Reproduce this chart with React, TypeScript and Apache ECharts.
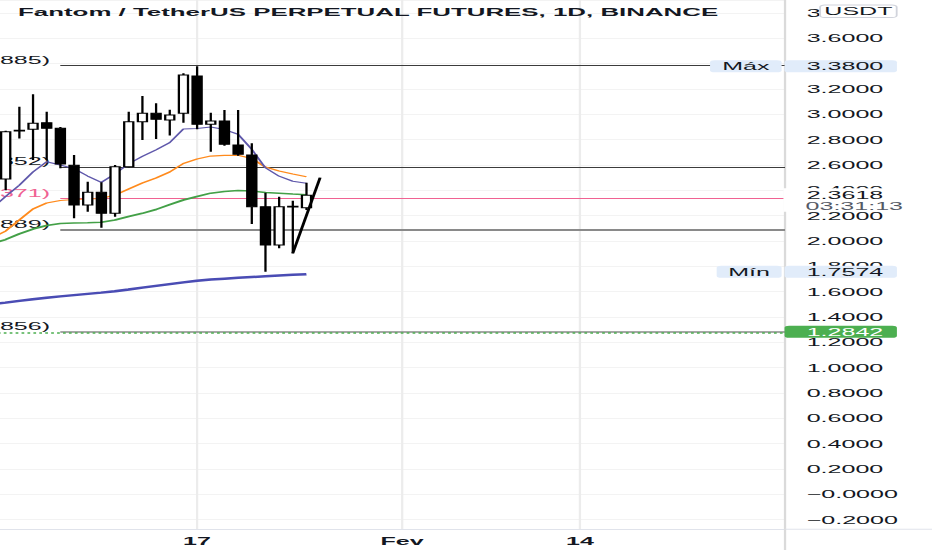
import React, { useEffect, useRef } from 'react';
import * as echarts from 'echarts';

// ---------- data ----------
const candleDates = [
  '2022-01-03', '2022-01-04', '2022-01-05', '2022-01-06', '2022-01-07', '2022-01-08',
  '2022-01-09', '2022-01-10', '2022-01-11', '2022-01-12', '2022-01-13', '2022-01-14',
  '2022-01-15', '2022-01-16', '2022-01-17', '2022-01-18', '2022-01-19', '2022-01-20',
  '2022-01-21', '2022-01-22', '2022-01-23', '2022-01-24', '2022-01-25',
];
const opens = [2.49, 2.875, 2.882, 2.934, 2.89, 2.598, 2.285, 2.385, 2.219, 2.587, 2.942, 3.008, 2.955, 3.008, 3.303, 2.922, 2.948, 2.758, 2.679, 2.271, 1.969, 2.275, 2.262];
const closes = [2.863, 2.868, 2.929, 2.89, 2.608, 2.285, 2.385, 2.219, 2.587, 2.942, 3.008, 2.961, 2.995, 3.311, 2.922, 2.948, 2.764, 2.685, 2.271, 1.969, 2.271, 2.268, 2.3618];
const lows = [2.40, 2.81, 2.64, 2.64, 2.574, 2.18, 2.232, 2.105, 2.192, 2.58, 2.798, 2.805, 2.833, 2.934, 2.882, 2.705, 2.753, 2.674, 2.134, 1.7574, 1.943, 1.903, 2.245];
const highs = [2.87, 3.06, 3.158, 3.021, 2.90, 2.679, 2.469, 2.464, 2.60, 3.021, 3.145, 3.087, 3.036, 3.324, 3.38, 3.013, 3.034, 3.034, 2.772, 2.382, 2.35, 2.318, 2.461];

const maDates = ['2022-01-02', ...candleDates];
const maFast = [2.259, 2.351, 2.440, 2.545, 2.626, 2.600, 2.572, 2.513, 2.463, 2.53, 2.61, 2.668, 2.72, 2.777, 2.885, 2.889, 2.900, 2.880, 2.843, 2.725, 2.578, 2.512, 2.472, 2.456];
const maMid = [2.024, 2.079, 2.166, 2.253, 2.300, 2.320, 2.328, 2.332, 2.336, 2.363, 2.411, 2.458, 2.498, 2.545, 2.612, 2.648, 2.671, 2.677, 2.677, 2.652, 2.584, 2.553, 2.529, 2.508];
const maSlow = [1.977, 2.012, 2.056, 2.095, 2.123, 2.139, 2.142, 2.144, 2.148, 2.166, 2.194, 2.219, 2.249, 2.288, 2.324, 2.352, 2.378, 2.391, 2.399, 2.395, 2.383, 2.377, 2.371, 2.366];
const maLong = [1.501, 1.514, 1.528, 1.541, 1.552, 1.563, 1.573, 1.583, 1.593, 1.604, 1.617, 1.632, 1.646, 1.660, 1.674, 1.686, 1.696, 1.703, 1.710, 1.716, 1.722, 1.728, 1.733, 1.737];

const trendDates = ['2022-01-24', '2022-01-26'];
const trendValues = [1.903, 2.5];

const fibLevels = [3.3885, 2.5852, 2.3371, 2.0889, 1.2856];
const fibLabels = ['885)', '852)', '371)', '889)', '856)'];
const fibStart = '2022-01-07';
const alertLevel = 1.2842;
const highLabel = 'Máx';
const highValue = 3.38;
const lowLabel = 'Mín';
const lowValue = 1.7574;
const lastPrice = 2.3618;
const countdown = '03:31:13';
const currency = 'USDT';
const titleText = 'Fantom / TetherUS PERPETUAL FUTURES, 1D, BINANCE';

const axisStart = '2022-01-02';
const axisEnd = '2022-03-01';
const xTickLabels: Record<string, string> = { '2022-01-17': '17', '2022-02-01': 'Fev', '2022-02-14': '14' };
const yMin = -0.2755;
const yMax = 3.9028;
const yStep = 0.2;
const coveredTicks = [3.4]; // price-axis labels fully hidden under a tag in the reference

// ---------- layout ----------
const W = 409;
const H = 550;
const SX = 932 / W;
const FONT = '"Liberation Sans", Arial, sans-serif';
const AXIS_X = 344.5;
const GRID_BOTTOM = 20.7;

function buildCategories(): string[] {
  const out: string[] = [];
  const start = Date.parse(axisStart + 'T00:00:00Z');
  const end = Date.parse(axisEnd + 'T00:00:00Z');
  for (let t = start; t <= end; t += 86400000) out.push(new Date(t).toISOString().slice(0, 10));
  return out;
}

const fmtPrice = (v: number) => (v <= 1e-9 ? '\u2212' + Math.abs(v).toFixed(4) : v.toFixed(4));
const axisFmt = (v: number) => (coveredTicks.some((c) => Math.abs(c - v) < 1e-6) ? '' : fmtPrice(v));

export default function App() {
  const ref = useRef<HTMLDivElement>(null);

  useEffect(() => {
    document.body.style.margin = '0';
    document.body.style.overflow = 'hidden';
    const chart = echarts.init(ref.current as HTMLDivElement, undefined, { renderer: 'svg' });
    const categories = buildCategories();
    const lastCat = categories[categories.length - 1];

    const candleData = candleDates.map((d, i) => [d, opens[i], closes[i], lows[i], highs[i]]);
    const maSeries = (data: number[], color: string, width: number) => ({
      type: 'line',
      data: maDates.map((d, i) => [d, data[i]]),
      symbol: 'none',
      smooth: false,
      z: 2,
      silent: true,
      lineStyle: { color, width },
    });

    const fibColors = ['#3c3c3c', '#3c3c3c', '#f06292', '#8a8a8a', '#8a8a8a'];
    const fibWidths = [1, 1, 1, 2, 1.5];
    const fibLines: any[] = fibLevels.map((lv, i) => [
      {
        xAxis: fibStart,
        yAxis: lv,
        lineStyle: { color: fibColors[i], width: fibWidths[i], type: 'solid' },
        label: {
          show: true,
          position: 'start',
          formatter: fibLabels[i],
          color: i === 2 ? '#f06292' : '#131722',
          fontSize: 11,
          fontFamily: FONT,
          verticalAlign: 'bottom',
          distance: 4.5,
        },
      },
      { xAxis: lastCat, yAxis: lv },
    ]);
    fibLines.push({
      yAxis: alertLevel,
      lineStyle: { color: '#4caf50', width: 1.5, type: [1.2, 1.4] },
      label: { show: false },
    });

    chart.setOption({
      animation: false,
      backgroundColor: '#ffffff',
      textStyle: { fontFamily: FONT },
      grid: { left: -3.55, right: W - AXIS_X, top: 0, bottom: GRID_BOTTOM, containLabel: false, outerBoundsMode: 'none' },
      xAxis: {
        type: 'category',
        data: categories,
        boundaryGap: false,
        axisLine: { onZero: false, lineStyle: { color: '#e0e3eb', width: 1 } },
        axisTick: { show: false },
        axisLabel: {
          interval: (_i: number, v: string) => v in xTickLabels,
          formatter: (v: string) => xTickLabels[v] || '',
          color: '#131722',
          fontSize: 11,
          fontWeight: 'bold',
          margin: 6,
        },
        splitLine: {
          show: true,
          interval: (_i: number, v: string) => v in xTickLabels,
          lineStyle: { color: '#ececec', width: 1 },
        },
      },
      yAxis: {
        type: 'value',
        position: 'right',
        min: yMin,
        max: yMax,
        minInterval: yStep,
        maxInterval: yStep,
        splitNumber: 21,
        axisLine: { show: true, lineStyle: { color: '#dadada', width: 1 } },
        axisTick: { show: false },
        axisLabel: {
          margin: 9.5,
          color: '#131722',
          fontSize: 11,
          showMinLabel: false,
          showMaxLabel: false,
          formatter: axisFmt,
        },
        splitLine: { show: true, lineStyle: { color: '#f3f3f3', width: 1 } },
      },
      series: [
        maSeries(maLong, '#4a4cb4', 2.5),
        maSeries(maSlow, '#43a047', 1.6),
        maSeries(maMid, '#ff8a1c', 1.2),
        maSeries(maFast, '#5f58ab', 1),
        {
          type: 'candlestick',
          data: candleData,
          encode: { x: 0, y: [1, 2, 3, 4] },
          barWidth: 3.8,
          z: 3,
          silent: true,
          itemStyle: {
            color: '#ffffff',
            color0: '#000000',
            borderColor: '#000000',
            borderColor0: '#000000',
            borderColorDoji: '#000000',
            borderWidth: 1,
          },
          markLine: {
            silent: true,
            symbol: ['none', 'none'],
            z: 1,
            animation: false,
            data: fibLines,
          },
        },
        {
          type: 'line',
          data: trendDates.map((d, i) => [d, trendValues[i]]),
          symbol: 'none',
          z: 4,
          silent: true,
          lineStyle: { color: '#000000', width: 1.3 },
        },
      ],
    });

    const py = (v: number) => chart.convertToPixel({ yAxisIndex: 0 }, v) as number;
    const tagW = 49.3;
    const txt = (text: string, x: number, y: number, fill: string, align = 'left', extra: any = {}) => ({
      type: 'text',
      z: 101,
      x,
      y,
      style: { text, fill, fontSize: 11, fontFamily: FONT, align, verticalAlign: 'middle', ...extra },
    });
    const box = (x: number, y: number, w: number, h: number, fill: string, extra: any = {}) => ({
      type: 'rect',
      z: 100,
      shape: { x, y, width: w, height: h, r: 2 },
      style: { fill, ...extra },
    });

    const yHigh = py(highValue);
    const yLow = py(lowValue);
    const yAlert = py(alertLevel);
    const yLast = py(lastPrice);
    const yAxisLine = H - GRID_BOTTOM;

    chart.setOption({
      graphic: [
        {
          type: 'line',
          z: 5,
          shape: { x1: AXIS_X, y1: yAxisLine, x2: W, y2: yAxisLine },
          style: { stroke: '#e0e3eb', lineWidth: 1 },
        },
        {
          type: 'line',
          z: 5,
          shape: { x1: AXIS_X, y1: yAxisLine, x2: AXIS_X, y2: H },
          style: { stroke: '#dadada', lineWidth: 1 },
        },
        txt(titleText, 7.9, 12, '#131722', 'left', { fontWeight: 'bold', fontSize: 11.35 }),
        box(359.9, 5, 33.6, 12.5, '#ffffff', { stroke: '#d1d4dc', lineWidth: 0.8 }),
        txt(currency, 376.7, 11.4, '#131722', 'center'),
        box(311.6, yHigh - 6, 31.4, 12, '#e1ecfa'),
        txt(highLabel, 327.3, yHigh, '#131722', 'center'),
        box(AXIS_X - 0.2, yHigh - 6, tagW, 12, '#e1ecfa'),
        txt(fmtPrice(highValue), 354, yHigh, '#131722'),
        box(314.5, yLow - 6, 28.5, 12, '#e1ecfa'),
        txt(lowLabel, 328.7, yLow, '#131722', 'center'),
        box(AXIS_X - 0.2, yLow - 6, tagW, 12, '#e1ecfa'),
        txt(fmtPrice(lowValue), 354, yLow, '#131722'),
        box(AXIS_X - 0.2, yAlert - 6, tagW, 12, '#4caf50'),
        txt(fmtPrice(alertLevel), 354, yAlert, '#ffffff'),
        {
          type: 'rect',
          z: 100,
          shape: { x: AXIS_X - 0.7, y: yLast - 7, width: W - AXIS_X + 1, height: 23.5 },
          style: { fill: '#ffffff' },
        },
        txt(fmtPrice(lastPrice), 354, yLast, '#131722'),
        txt(countdown, 353.5, yLast + 10.8, '#555a66'),
      ],
    });

    return () => chart.dispose();
  }, []);

  return (
    <div
      ref={ref}
      style={{ width: W, height: H, transform: `scaleX(${SX})`, transformOrigin: '0 0', background: '#ffffff' }}
    />
  );
}
